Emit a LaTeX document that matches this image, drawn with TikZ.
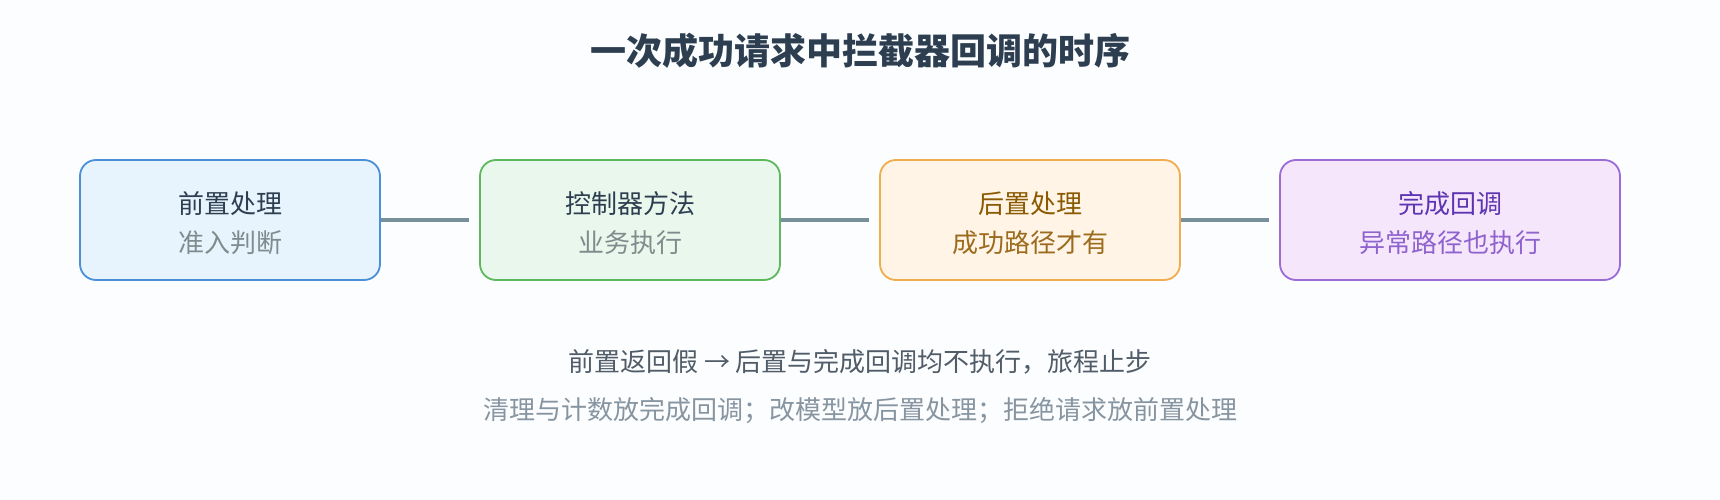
\documentclass[tikz,border=0pt]{standalone}
\usepackage{fontspec}
\setmainfont{Noto Sans CJK SC}
\usetikzlibrary{positioning}
\definecolor{bg}{RGB}{252,253,255}
\definecolor{titlec}{HTML}{2C3E50}
\definecolor{darkt}{HTML}{2C3E50}
\definecolor{grayt}{HTML}{7F8C8D}
\definecolor{bAf}{HTML}{E8F4FD}
\definecolor{bAd}{HTML}{4A90D9}
\definecolor{bBf}{HTML}{EAF7EC}
\definecolor{bBd}{HTML}{5CB85C}
\definecolor{bCf}{HTML}{FFF4E6}
\definecolor{bCd}{HTML}{F0AD4E}
\definecolor{bCa}{HTML}{8A5A00}
\definecolor{bCb}{HTML}{9C6B1E}
\definecolor{bDf}{HTML}{F5E6FC}
\definecolor{bDd}{HTML}{9B6BD6}
\definecolor{bDa}{HTML}{5E35B1}
\definecolor{bDb}{HTML}{8E63CE}
\definecolor{connc}{HTML}{78909C}
\definecolor{noteA}{HTML}{505C68}
\definecolor{noteB}{HTML}{8795A1}
\tikzset{
  stagebox/.style={draw, line width=1.8pt, rounded corners=16pt, minimum height=120pt, inner sep=0pt},
  lineone/.style={font=\fontsize{26}{30}\selectfont, inner sep=0pt},
  linetwo/.style={font=\fontsize{26}{30}\selectfont, inner sep=0pt},
  conn/.style={draw=connc, line width=3.5pt, shorten >=10pt},
  notetext/.style={font=\fontsize{26}{30}\selectfont, inner sep=0pt}
}
\begin{document}
\begin{tikzpicture}[x=1pt,y=-1pt]
\fill[bg] (0,0) rectangle (1720,500);
\useasboundingbox (0,0) rectangle (1720,500);
\node[font=\fontsize{36}{40}\selectfont\bfseries, text=titlec, inner sep=0pt] (title) at (860,51) {一次成功请求中拦截器回调的时序};

\node[stagebox, fill=bAf, draw=bAd, minimum width=300pt] (p1) at (230,220) {};
\node[stagebox, fill=bBf, draw=bBd, minimum width=300pt] (p2) at (630,220) {};
\node[stagebox, fill=bCf, draw=bCd, minimum width=300pt] (p3) at (1030,220) {};
\node[stagebox, fill=bDf, draw=bDd, minimum width=340pt] (p4) at (1450,220) {};

\draw[conn] (p1.east) -- (p2.west);
\draw[conn] (p2.east) -- (p3.west);
\draw[conn] (p3.east) -- (p4.west);

\node[lineone, text=darkt] (p1a) at (230,204) {前置处理};
\node[linetwo, text=grayt] (p1b) at (230,243) {准入判断};
\node[lineone, text=darkt] (p2a) at (630,204) {控制器方法};
\node[linetwo, text=grayt] (p2b) at (630,243) {业务执行};
\node[lineone, text=bCa] (p3a) at (1030,204) {后置处理};
\node[linetwo, text=bCb] (p3b) at (1030,243) {成功路径才有};
\node[lineone, text=bDa] (p4a) at (1450,204) {完成回调};
\node[linetwo, text=bDb] (p4b) at (1450,243) {异常路径也执行};

\node[notetext, text=noteA] (n1) at (860,362) {前置返回假 → 后置与完成回调均不执行，旅程止步};
\node[notetext, text=noteB] (n2) at (860,411) {清理与计数放完成回调；改模型放后置处理；拒绝请求放前置处理};
\end{tikzpicture}
\end{document}
